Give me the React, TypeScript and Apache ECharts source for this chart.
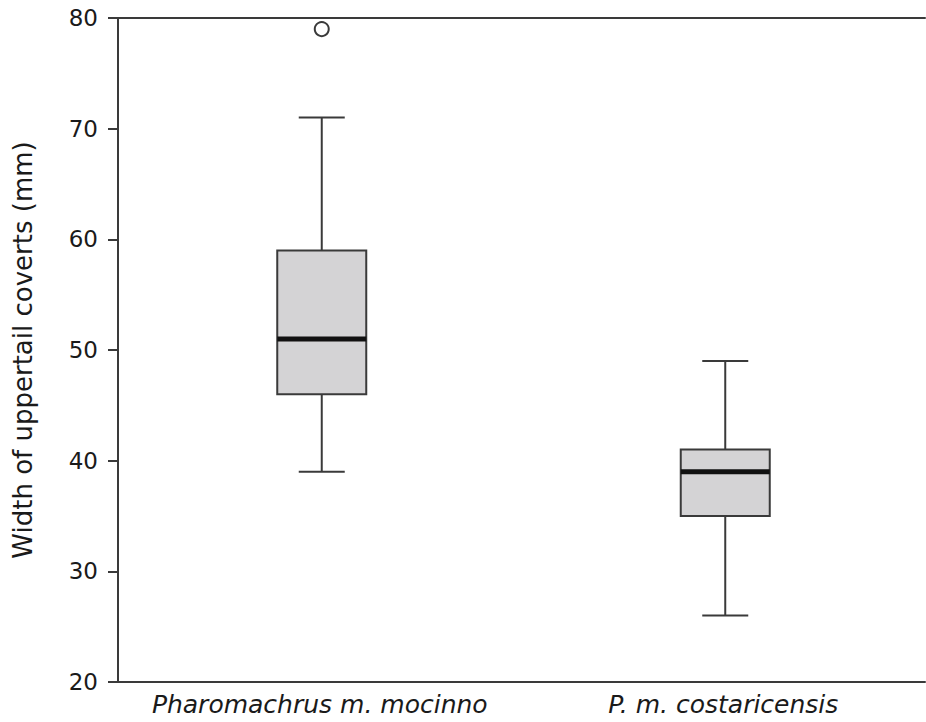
import React, { useEffect, useRef } from "react";
import * as echarts from "echarts";

const categories = ["Pharomachrus m. mocinno", "P. m. costaricensis"];
// [lowerWhisker, Q1, median, Q3, upperWhisker]
const boxStats = [
  [39, 46, 51, 59, 71],
  [26, 35, 39, 41, 49],
];
const outliers = [[0, 79]];
const yTicks = { min: 20, max: 80, interval: 10 };
const yTitle = "Width of uppertail coverts (mm)";

export default function App() {
  const ref = useRef<HTMLDivElement>(null);
  useEffect(() => {
    const chart = echarts.init(ref.current!, null, { renderer: "svg" });
    const lineColor = "#3a3a3a";
    const font = "'DejaVu Sans', 'Open Sans', sans-serif";
    chart.setOption({
      animation: false,
      backgroundColor: "#ffffff",
      grid: { left: 118, right: 1, top: 18, bottom: 40 },
      xAxis: [
        {
          type: "category",
          data: categories,
          position: "bottom",
          axisLine: { show: true, lineStyle: { color: lineColor, width: 2 } },
          axisTick: { show: false },
          axisLabel: {
            interval: 0,
            hideOverlap: false,
            fontFamily: font,
            fontStyle: "italic",
            fontSize: 25,
            color: "#1a1a1a",
            margin: 10,
          },
          splitLine: { show: false },
        },
        {
          type: "category",
          data: categories,
          position: "top",
          axisLine: { show: true, lineStyle: { color: lineColor, width: 2 } },
          axisTick: { show: false },
          axisLabel: { show: false },
          splitLine: { show: false },
        },
      ],
      yAxis: {
        type: "value",
        min: yTicks.min,
        max: yTicks.max,
        interval: yTicks.interval,
        name: yTitle,
        nameLocation: "middle",
        nameGap: 82,
        nameTextStyle: { fontFamily: font, fontSize: 26, color: "#1a1a1a" },
        axisLine: { show: true, lineStyle: { color: lineColor, width: 2 } },
        axisTick: { show: true, inside: false, length: 10, lineStyle: { color: lineColor, width: 2 } },
        axisLabel: { fontFamily: font, fontSize: 23, color: "#1a1a1a", margin: 20 },
        splitLine: { show: false },
      },
      series: [
        {
          type: "custom",
          xAxisIndex: 0,
          data: boxStats.map((s, i) => [i, ...s]),
          encode: { x: 0, y: [1, 2, 3, 4, 5] },
          renderItem: (params: any, api: any) => {
            const x = api.value(0);
            const lo = api.coord([x, api.value(1)]);
            const q1 = api.coord([x, api.value(2)]);
            const med = api.coord([x, api.value(3)]);
            const q3 = api.coord([x, api.value(4)]);
            const hi = api.coord([x, api.value(5)]);
            const cx = lo[0] + 2;
            const bw = 89;
            const cw = 46;
            const stroke = { stroke: lineColor, lineWidth: 2 };
            return {
              type: "group",
              children: [
                { type: "line", shape: { x1: cx, y1: hi[1], x2: cx, y2: q3[1] }, style: stroke },
                { type: "line", shape: { x1: cx, y1: q1[1], x2: cx, y2: lo[1] }, style: stroke },
                { type: "line", shape: { x1: cx - cw / 2, y1: hi[1], x2: cx + cw / 2, y2: hi[1] }, style: stroke },
                { type: "line", shape: { x1: cx - cw / 2, y1: lo[1], x2: cx + cw / 2, y2: lo[1] }, style: stroke },
                {
                  type: "rect",
                  shape: { x: cx - bw / 2, y: q3[1], width: bw, height: q1[1] - q3[1] },
                  style: { fill: "#d4d3d5", stroke: lineColor, lineWidth: 2 },
                },
                {
                  type: "line",
                  shape: { x1: cx - bw / 2, y1: med[1], x2: cx + bw / 2, y2: med[1] },
                  style: { stroke: "#111111", lineWidth: 5 },
                },
              ],
            };
          },
        },
        {
          type: "custom",
          xAxisIndex: 0,
          data: outliers,
          renderItem: (params: any, api: any) => {
            const p = api.coord([api.value(0), api.value(1)]);
            return {
              type: "circle",
              shape: { cx: p[0] + 2, cy: p[1], r: 7 },
              style: { fill: "#ffffff", stroke: lineColor, lineWidth: 2 },
            };
          },
        },
      ],
    });
    return () => chart.dispose();
  }, []);
  return (
    <div
      ref={ref}
      style={{ position: "fixed", left: 0, top: 0, width: 926, height: 722 }}
    />
  );
}
